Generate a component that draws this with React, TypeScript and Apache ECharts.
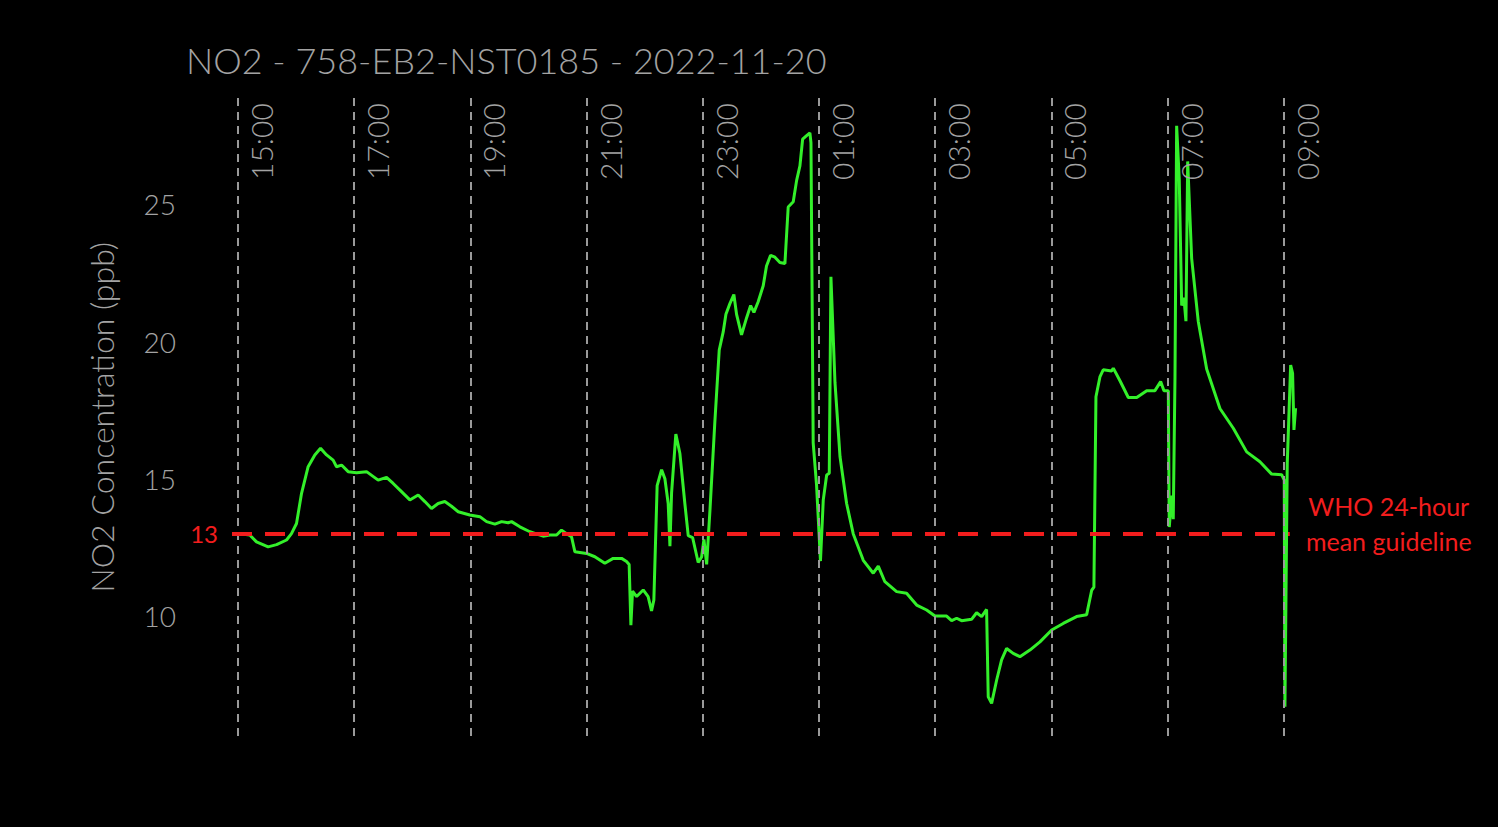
import React, { useEffect, useRef } from "react";
import * as echarts from "echarts";

// Minutes after 15:00 on 2022-11-20
const TIME_MIN = [
  2.1, 12.4, 19.3, 31.3, 40.0, 50.3, 55.4, 60.6, 65.8, 72.6, 79.5, 85.4, 91.6, 98.4, 101.9, 107.1, 113.9,
  122.6, 132.9, 144.9, 153.5, 160.4, 169.0, 177.6, 186.2, 193.1, 200.0, 206.8, 213.7, 220.6, 227.5,
  239.5, 249.9, 256.8, 265.4, 272.3, 279.1, 282.6, 291.2, 301.5, 315.2, 322.1, 329.1, 334.2, 339.4,
  344.5, 348.0, 360.0, 368.6, 378.9, 387.5, 396.2, 401.3, 404.0, 405.8, 407.5, 411.7, 418.5, 423.6,
  427.1, 429.5, 432.9, 437.5, 440.9, 444.3, 446.1, 447.8, 452.2, 456.4, 461.5, 465.0, 469.5, 475.3,
  478.8, 481.2, 484.0, 487.4, 492.5, 497.0, 501.1, 503.9, 508.0, 512.1, 514.9, 520.0, 525.2, 529.4,
  532.8, 537.2, 542.4, 545.8, 550.0, 554.5, 559.6, 564.8, 568.2, 573.4, 576.9, 580.3, 583.1, 587.2,
  590.6, 591.7, 594.0, 597.5, 601.5, 604.4, 607.9, 610.6, 612.3, 616.5, 621.7, 628.5, 635.3, 645.7,
  656.0, 661.2, 668.0, 680.1, 690.4, 700.8, 711.1, 719.7, 731.7, 736.9, 742.1, 747.2, 757.5, 762.7,
  767.9, 773.0, 774.7, 778.2, 783.4, 788.5, 793.7, 800.5, 807.4, 817.7, 828.1, 840.2, 852.1, 865.9,
  876.3, 881.5, 883.8, 885.9, 890.0, 893.4, 902.1, 903.8, 910.7, 919.3, 928.0, 938.3, 946.8, 952.7,
  956.1, 960.6, 961.6, 964.1, 965.7, 967.5, 969.2, 971.9, 974.4, 976.7, 978.8, 980.6, 984.7, 991.5,
  1000.2, 1013.9, 1027.7, 1041.5, 1055.2, 1067.3, 1077.6, 1080.3, 1081.0, 1083.4, 1086.9, 1088.9,
  1090.3, 1092.0,
];

const NO2_PPB = [
  13.0, 12.95, 12.7, 12.52, 12.6, 12.77, 13.0, 13.37, 14.47, 15.44, 15.87, 16.11, 15.87, 15.68, 15.44, 15.5, 15.26,
  15.22, 15.26, 14.95, 15.05, 14.83, 14.53, 14.23, 14.41, 14.17, 13.92, 14.1, 14.17, 14.0, 13.8,
  13.68, 13.62, 13.44, 13.35, 13.44, 13.4, 13.44, 13.25, 13.07, 12.91, 12.95, 12.95, 13.13, 13.0,
  12.89, 12.34, 12.28, 12.16, 11.92, 12.1, 12.1, 11.99, 11.88, 9.67, 10.91, 10.71, 10.95, 10.71,
  10.19, 10.58, 14.75, 15.33, 15.0, 14.1, 12.54, 14.49, 16.63, 15.92, 14.1, 12.93, 12.86, 11.95,
  12.15, 12.79, 11.88, 13.84, 17.09, 19.69, 20.35, 20.99, 21.38, 21.71, 20.99, 20.24, 20.86, 21.31,
  21.06, 21.45, 22.03, 22.75, 23.14, 23.07, 22.88, 22.84, 24.9, 25.09, 25.87, 26.4, 27.37, 27.5,
  27.6, 27.24, 16.31, 14.75, 12.0, 14.23, 15.14, 15.2, 22.36, 18.5, 15.8, 14.1, 13.0, 12.03,
  11.56, 11.82, 11.25, 10.89, 10.83, 10.4, 10.22, 10.0, 10.0, 9.83, 9.92, 9.83, 9.88, 10.12,
  9.98, 10.24, 7.06, 6.82, 7.67, 8.4, 8.82, 8.64, 8.52, 8.76, 9.06, 9.49, 9.73, 9.98,
  10.05, 10.94, 11.05, 17.99, 18.71, 18.97, 18.93, 19.03, 18.57, 17.96, 17.96, 18.21, 18.21, 18.54,
  18.21, 18.21, 13.24, 14.39, 13.53, 18.71, 27.86, 25.92, 21.31, 21.6, 20.74, 26.56, 23.03, 20.74,
  19.0, 17.56, 16.84, 15.98, 15.62, 15.17, 15.15, 14.95, 6.7, 15.57, 19.14, 18.84,
  16.78, 17.57,
];

const TICK_MIN = [0, 120, 240, 360, 480, 600, 720, 840, 960, 1080];
const TICK_LABELS = ["15:00", "17:00", "19:00", "21:00", "23:00", "01:00", "03:00", "05:00", "07:00", "09:00"];
const Y_TICKS = [10, 15, 20, 25];
const GUIDELINE = 13;
const GUIDELINE_SPAN = [-6, 1086];
const VLINE_SPAN = [5.63, 28.9];

const TITLE = "NO2 - 758-EB2-NST0185 - 2022-11-20";
const GUIDE_LINES = ["WHO 24-hour", "mean guideline"];

const FONT = "Lato, 'Open Sans', sans-serif";
const GREY = "#a3a3a3";
const RED = "#f21d1d";

export default function App() {
  const ref = useRef<HTMLDivElement>(null);

  useEffect(() => {
    if (!ref.current) return;
    const chart = echarts.init(ref.current, undefined, { renderer: "svg" });

    const vlines = TICK_MIN.map((m, i) => [
      {
        coord: [m, VLINE_SPAN[0]],
        label: { formatter: TICK_LABELS[i] },
      },
      { coord: [m, VLINE_SPAN[1]] },
    ]);

    const guideText = GUIDE_LINES.map((s) => `{a|${s}}`).join("\n") + "\n{b| }";

    chart.setOption({
      animation: false,
      backgroundColor: "#000000",
      title: {
        text: TITLE,
        left: 186,
        top: 42,
        padding: 0,
        textStyle: { color: GREY, fontSize: 36, fontWeight: 300, fontFamily: FONT },
      },
      grid: { left: 232, right: 196.6, top: 67, bottom: 73.7 },
      xAxis: {
        type: "value",
        min: -6,
        max: 1098,
        axisLine: { show: false },
        axisTick: { show: false },
        axisLabel: { show: false },
        splitLine: { show: false },
      },
      yAxis: {
        type: "value",
        min: 5,
        max: 30,
        interval: 5,
        axisLine: { show: false },
        axisTick: { show: false },
        splitLine: { show: false },
        axisLabel: {
          color: GREY,
          fontSize: 28,
          fontFamily: FONT,
          fontWeight: 300,
          margin: 56,
          formatter: (v: number) => (Y_TICKS.includes(v) ? String(v) : ""),
        },
        name: "NO2 Concentration (ppb)",
        nameLocation: "middle",
        nameGap: 115,
        nameTextStyle: {
          color: GREY,
          fontSize: 32,
          fontFamily: FONT,
          fontWeight: 300,
          padding: [0, 14, 0, 0],
        },
      },
      series: [
        {
          type: "line",
          data: [],
          silent: true,
          markLine: {
            silent: true,
            symbol: "none",
            animation: false,
            lineStyle: { color: "#9a9a9a", width: 2, type: [8, 6] },
            label: {
              show: true,
              position: "insideEndBottom",
              distance: [6, 8],
              color: GREY,
              fontSize: 30,
              fontFamily: FONT,
              fontWeight: 300,
            },
            data: vlines,
          },
        },
        {
          type: "line",
          data: TIME_MIN.map((t, i) => [t, NO2_PPB[i]]),
          showSymbol: false,
          symbol: "none",
          lineStyle: { color: "#33f02a", width: 3 },
          z: 3,
        },
        {
          type: "line",
          data: [],
          silent: true,
          z: 4,
          markLine: {
            silent: true,
            symbol: "none",
            animation: false,
            lineStyle: { color: RED, width: 4, type: [20, 13] },
            data: [
              [
                {
                  coord: [GUIDELINE_SPAN[0], GUIDELINE],
                  label: {
                    show: true,
                    position: "end",
                    distance: 99,
                    align: "center",
                    formatter: guideText,
                    color: RED,
                    fontFamily: FONT,
                    rich: {
                      a: { color: RED, fontSize: 25, lineHeight: 35, fontFamily: FONT },
                      b: { fontSize: 10, lineHeight: 20 },
                    },
                  },
                },
                { coord: [GUIDELINE_SPAN[1], GUIDELINE] },
              ],
              [
                {
                  coord: [GUIDELINE_SPAN[0], GUIDELINE],
                  lineStyle: { color: "rgba(0,0,0,0)" },
                  label: {
                    show: true,
                    position: "start",
                    distance: 14,
                    formatter: String(GUIDELINE),
                    color: RED,
                    fontSize: 24,
                    fontFamily: FONT,
                  },
                },
                { coord: [GUIDELINE_SPAN[1], GUIDELINE] },
              ],
            ],
          },
        },
      ],
    });

    return () => chart.dispose();
  }, []);

  return (
    <div
      ref={ref}
      style={{ position: "fixed", left: 0, top: 0, width: 1498, height: 827, background: "#000" }}
    />
  );
}
